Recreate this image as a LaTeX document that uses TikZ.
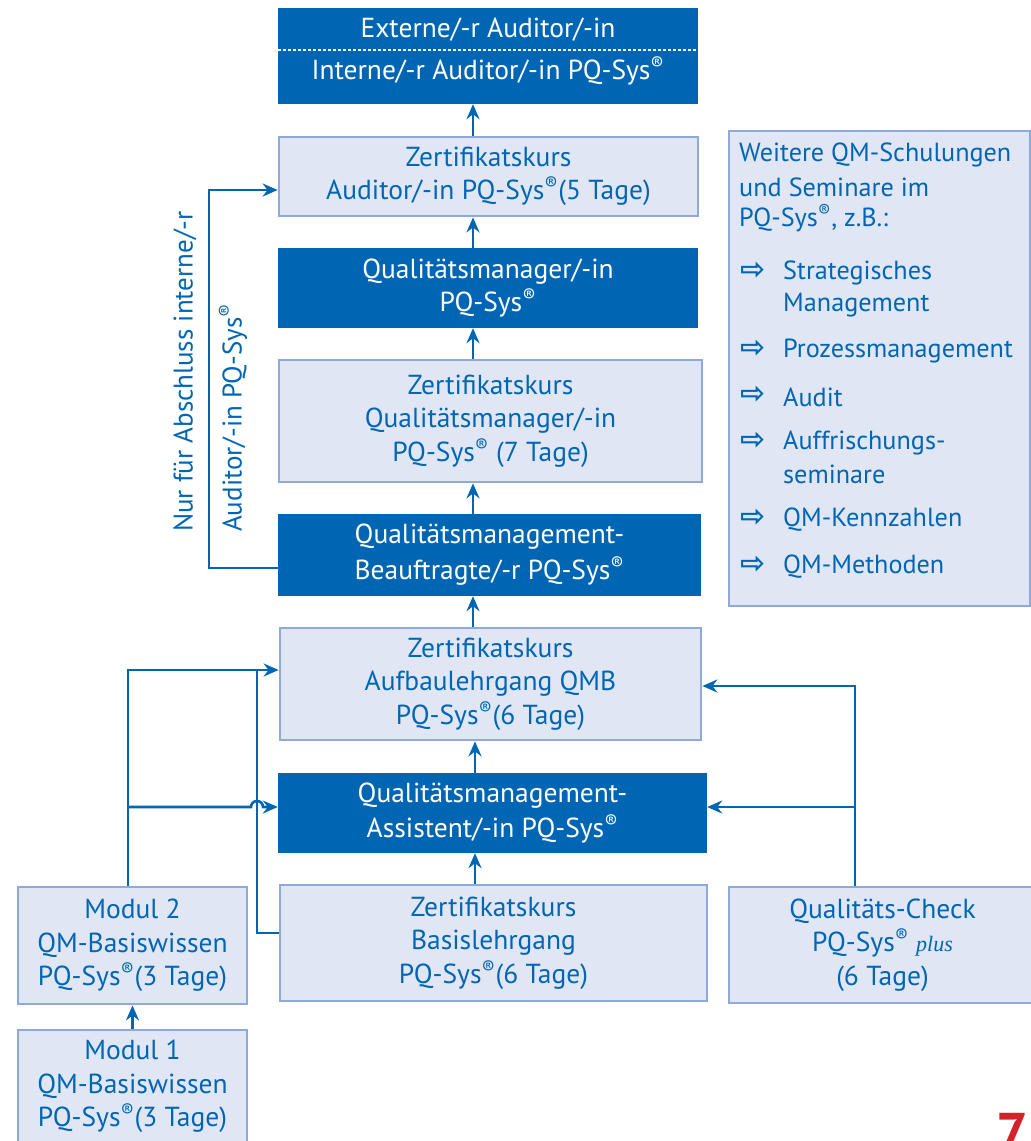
\documentclass[tikz,border=0pt]{standalone}
\usepackage{fontspec}
\setmainfont{PT Sans}
\newfontfamily\arrowfont{DejaVu Sans}
\newfontfamily\plusfont{Liberation Serif}
\usetikzlibrary{arrows.meta}

\definecolor{qdark}{HTML}{0066B3}
\definecolor{qlight}{HTML}{E0E6F4}
\definecolor{qborder}{HTML}{8EA9DA}
\definecolor{qred}{HTML}{D2232A}

\newcommand{\reg}{\textsuperscript{®}}

\tikzset{
  base/.style={font=\fontsize{27.5}{33.5}\selectfont, align=center, inner sep=0pt},
  darkbox/.style={base, fill=qdark, text=white},
  lightbox/.style={base, fill=qlight, draw=qborder, line width=2.8pt, text=qdark},
  conn/.style={draw=qdark, line width=2.6pt, -{Stealth[length=15pt,width=13pt,inset=5pt]}},
  plainline/.style={draw=qdark, line width=2.6pt},
  bluetxt/.style={font=\fontsize{26.2}{31}\selectfont, text=qdark, inner sep=0pt},
  sidetxt/.style={font=\fontsize{27}{31}\selectfont, text=qdark, inner sep=0pt},
  arrowsym/.style={font=\arrowfont\bfseries\fontsize{30}{30}\selectfont, text=qdark, inner sep=0pt},
}

\begin{document}
\begin{tikzpicture}[x=1pt,y=-1pt]
\useasboundingbox (0,0) rectangle (1031,1141);

% ---------- main column ----------
\node[darkbox, minimum width=420pt, minimum height=96pt] (top) at (488,56) {};
\node[base, text=white] (topa) at (488,30) {Externe/-r Auditor/-in};
\node[base, text=white] (topb) at (488,71) {Interne/-r Auditor/-in PQ-Sys\reg};
\draw[white, line width=1.2pt, dash pattern=on 3pt off 2pt] (top.west |- 0,50) -- (top.east |- 0,50);

\node[lightbox, minimum width=419pt, minimum height=79pt] (zaud) at (488.5,176.5)
  {Zertifikatskurs\\Auditor/-in PQ-Sys\reg(5 Tage)};
\node[darkbox, minimum width=420pt, minimum height=80pt] (qm) at (488,288)
  {Qualitätsmanager/-in\\PQ-Sys\reg};
\node[lightbox, minimum width=423pt, minimum height=122pt] (zqm) at (490.5,421)
  {Zertifikatskurs\\Qualitätsmanager/-in\\PQ-Sys\reg{} (7 Tage)};
\node[darkbox, minimum width=423pt, minimum height=82pt, font=\fontsize{27.5}{36}\selectfont] (qmb) at (489.5,555)
  {Qualitätsmanagement-\\Beauftragte/-r PQ-Sys\reg};
\node[lightbox, minimum width=421pt, minimum height=112pt] (zauf) at (490.5,684)
  {Zertifikatskurs\\Aufbaulehrgang QMB\\PQ-Sys\reg(6 Tage)};
\node[darkbox, minimum width=429pt, minimum height=80pt, font=\fontsize{27.5}{35}\selectfont] (qma) at (492.5,813)
  {Qualitätsmanagement-\\Assistent/-in PQ-Sys\reg};
\node[lightbox, minimum width=427pt, minimum height=116pt] (zb) at (493.5,943)
  {Zertifikatskurs\\Basislehrgang\\PQ-Sys\reg(6 Tage)};

% ---------- left column ----------
\node[lightbox, minimum width=229pt, minimum height=117pt] (m2) at (132.5,945.5)
  {Modul 2\\QM-Basiswissen\\PQ-Sys\reg(3 Tage)};
\node[lightbox, minimum width=229pt, minimum height=113pt] (m1) at (132.5,1086.5)
  {Modul 1\\QM-Basiswissen\\PQ-Sys\reg(3 Tage)};

% ---------- right column ----------
\node[lightbox, minimum width=307pt, minimum height=116pt] (qc) at (882.5,945)
  {Qualitäts-Check\\PQ-Sys\reg{} {\plusfont\itshape\fontsize{22}{22}\selectfont plus}\\(6 Tage)};

\node[lightbox, minimum width=301pt, minimum height=475pt] (wbox) at (879.5,368.5) {};
\node[bluetxt, anchor=west] (w1) at (739,155) {Weitere QM-Schulungen};
\node[bluetxt, anchor=west] (w2) at (739,187) {und Seminare im};
\node[bluetxt, anchor=west] (w3) at (739,218) {PQ-Sys\reg, z.B.:};

\node[arrowsym, anchor=west] (a1) at (740,271) {⇨};
\node[bluetxt, anchor=west] (i1a) at (783,273) {Strategisches};
\node[bluetxt, anchor=west] (i1b) at (783,305) {Management};
\node[arrowsym, anchor=west] (a2) at (740,349) {⇨};
\node[bluetxt, anchor=west] (i2) at (783,351) {Prozessmanagement};
\node[arrowsym, anchor=west] (a3) at (740,395) {⇨};
\node[bluetxt, anchor=west] (i3) at (783,397) {Audit};
\node[arrowsym, anchor=west] (a4) at (740,441) {⇨};
\node[bluetxt, anchor=west] (i4a) at (783,443) {Auffrischungs-};
\node[bluetxt, anchor=west] (i4b) at (783,474) {seminare};
\node[arrowsym, anchor=west] (a5) at (740,518) {⇨};
\node[bluetxt, anchor=west] (i5) at (783,520) {QM-Kennzahlen};
\node[arrowsym, anchor=west] (a6) at (740,565) {⇨};
\node[bluetxt, anchor=west] (i6) at (783,567) {QM-Methoden};

% ---------- rotated label ----------
\node[sidetxt, rotate=90, anchor=west] (v1) at (185,532) {Nur für Abschluss interne/-r};
\node[sidetxt, rotate=90, anchor=west] (v2) at (233,532) {Auditor/-in PQ-Sys\reg};

% ---------- red page number ----------
\node[font=\bfseries\fontsize{56}{56}\selectfont, text=qred, inner sep=0pt, anchor=north west] (pg) at (996,1113) {7};

% ---------- connectors ----------
\coordinate (cx) at (473,0);
\draw[conn] (zaud.north -| cx) -- (top.south -| cx);
\draw[conn] (qm.north -| cx) -- (zaud.south -| cx);
\draw[conn] (zqm.north -| cx) -- (qm.south -| cx);
\draw[conn] (qmb.north -| cx) -- (zqm.south -| cx);
\draw[conn] (zauf.north -| cx) -- (qmb.south -| cx);
\coordinate (cx2) at (475,0);
\draw[conn] (qma.north -| cx2) -- (zauf.south -| cx2);
\draw[conn] (zb.north -| cx2) -- (qma.south -| cx2);

\draw[conn] (m1.north) -- (m2.north |- m2.south);

% bypass left
\draw[conn] (qmb.west |- 0,568) -- (209,568) -- (209,190) -- (zaud.west |- 0,190);

% Modul 2 connections
\draw[conn] (m2.north -| 128,0) -- (128,670) -- (zauf.west |- 0,670);
\draw[conn] (128,807) -- (251,807) arc[start angle=180, end angle=360, radius=6] -- (qma.west |- 0,807);
\draw[plainline] (zb.west |- 0,933) -- (257,933) -- (257,670);

% Qualitaets-Check connections
\draw[conn] (qc.north -| 855,0) -- (855,686) -- (zauf.east |- 0,686);
\draw[conn] (855,807) -- (qma.east |- 0,807);

\end{tikzpicture}
\end{document}
